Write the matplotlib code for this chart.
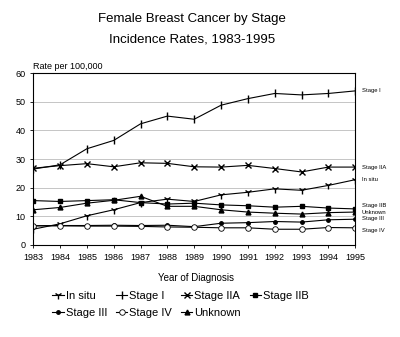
import matplotlib
matplotlib.use("Agg")
import matplotlib.pyplot as plt

plt.rcParams['font.family'] = ['Liberation Sans', 'DejaVu Sans']

# dados
anos = [1983, 1984, 1985, 1986, 1987, 1988, 1989, 1990, 1991, 1992, 1993, 1994, 1995]
in_situ = [5.5, 7.4, 10.2, 12.3, 14.8, 16.0, 15.2, 17.5, 18.4, 19.6, 19.1, 20.8, 22.8]
stage_i = [26.5, 28.0, 33.6, 36.5, 42.3, 45.0, 43.9, 48.8, 51.1, 52.9, 52.4, 52.9, 53.8]
stage_iia = [26.8, 27.7, 28.4, 27.3, 28.7, 28.5, 27.3, 27.2, 27.8, 26.7, 25.5, 27.2, 27.2]
stage_iib = [15.5, 15.2, 15.5, 15.8, 14.8, 14.3, 14.6, 14.0, 13.7, 13.2, 13.5, 12.9, 12.6]
stage_iii = [6.7, 6.8, 6.8, 6.9, 6.8, 6.9, 6.4, 7.6, 7.8, 8.2, 8.0, 8.8, 9.0]
stage_iv = [6.7, 6.7, 6.6, 6.6, 6.5, 6.3, 6.2, 6.0, 6.0, 5.5, 5.5, 6.1, 6.0]
unknown = [12.3, 13.1, 14.6, 15.6, 17.0, 13.5, 13.5, 12.3, 11.5, 11.1, 10.8, 11.3, 11.5]

fig = plt.figure(figsize=(4.0, 3.37), dpi=100)
ax = fig.add_axes([0.083, 0.273, 0.805, 0.51])

estilo = dict(color='black', linewidth=0.8)
l_situ, = ax.plot(anos, in_situ, marker='1', markersize=6, label='In situ', **estilo)
l_i, = ax.plot(anos, stage_i, marker='|', markersize=6, label='Stage I', **estilo)
l_iia, = ax.plot(anos, stage_iia, marker='x', markersize=5, label='Stage IIA', **estilo)
l_iib, = ax.plot(anos, stage_iib, marker='s', markersize=3.5, label='Stage IIB', **estilo)
l_iii, = ax.plot(anos, stage_iii, marker='o', markersize=2.5, label='Stage III', **estilo)
l_iv, = ax.plot(anos, stage_iv, marker='o', markersize=4, markerfacecolor='white',
                markeredgewidth=0.6, label='Stage IV', **estilo)
l_unk, = ax.plot(anos, unknown, marker='^', markersize=3.5, label='Unknown', **estilo)

# rotulos no lado direito
rotulos = [('Stage I', stage_i), ('Stage IIA', stage_iia), ('In situ', in_situ),
           ('Stage IIB', stage_iib), ('Unknown', unknown), ('Stage III', stage_iii),
           ('Stage IV', stage_iv)]
desloc = {'Stage IIB': 1.2, 'Unknown': -0.2, 'Stage III': 0.3, 'Stage IV': -0.8}
for nome, serie in rotulos:
    ax.text(1995.25, serie[-1] + desloc.get(nome, 0), nome, fontsize=4.2,
            va='center', ha='left', clip_on=False)

ax.set_xlim(1983, 1995)
ax.set_ylim(0, 60)
ax.set_xticks(anos)
ax.set_yticks(range(0, 61, 10))
ax.tick_params(labelsize=6.5, length=2, width=0.6)
ax.yaxis.grid(True, color='#bbbbbb', linewidth=0.6)
ax.set_axisbelow(True)
for s in ax.spines.values():
    s.set_linewidth(0.8)

ax.text(0.0, 1.025, 'Rate per 100,000', transform=ax.transAxes, fontsize=6.5, ha='left')
fig.text(0.48, 0.935, 'Female Breast Cancer by Stage', fontsize=9.5, ha='center')
fig.text(0.48, 0.875, 'Incidence Rates, 1983-1995', fontsize=9.5, ha='center')
fig.text(0.49, 0.165, 'Year of Diagnosis', fontsize=7, ha='center')

handles = [l_situ, l_iii, l_i, l_iv, l_iia, l_unk, l_iib]
fig.legend(handles=handles, labels=[h.get_label() for h in handles], ncol=4,
           loc='upper left', bbox_to_anchor=(0.12, 0.15), frameon=False,
           fontsize=8, handlelength=1.0, handletextpad=0.2, columnspacing=0.8,
           labelspacing=0.6, borderaxespad=0)

plt.savefig('out.png', dpi=100)
